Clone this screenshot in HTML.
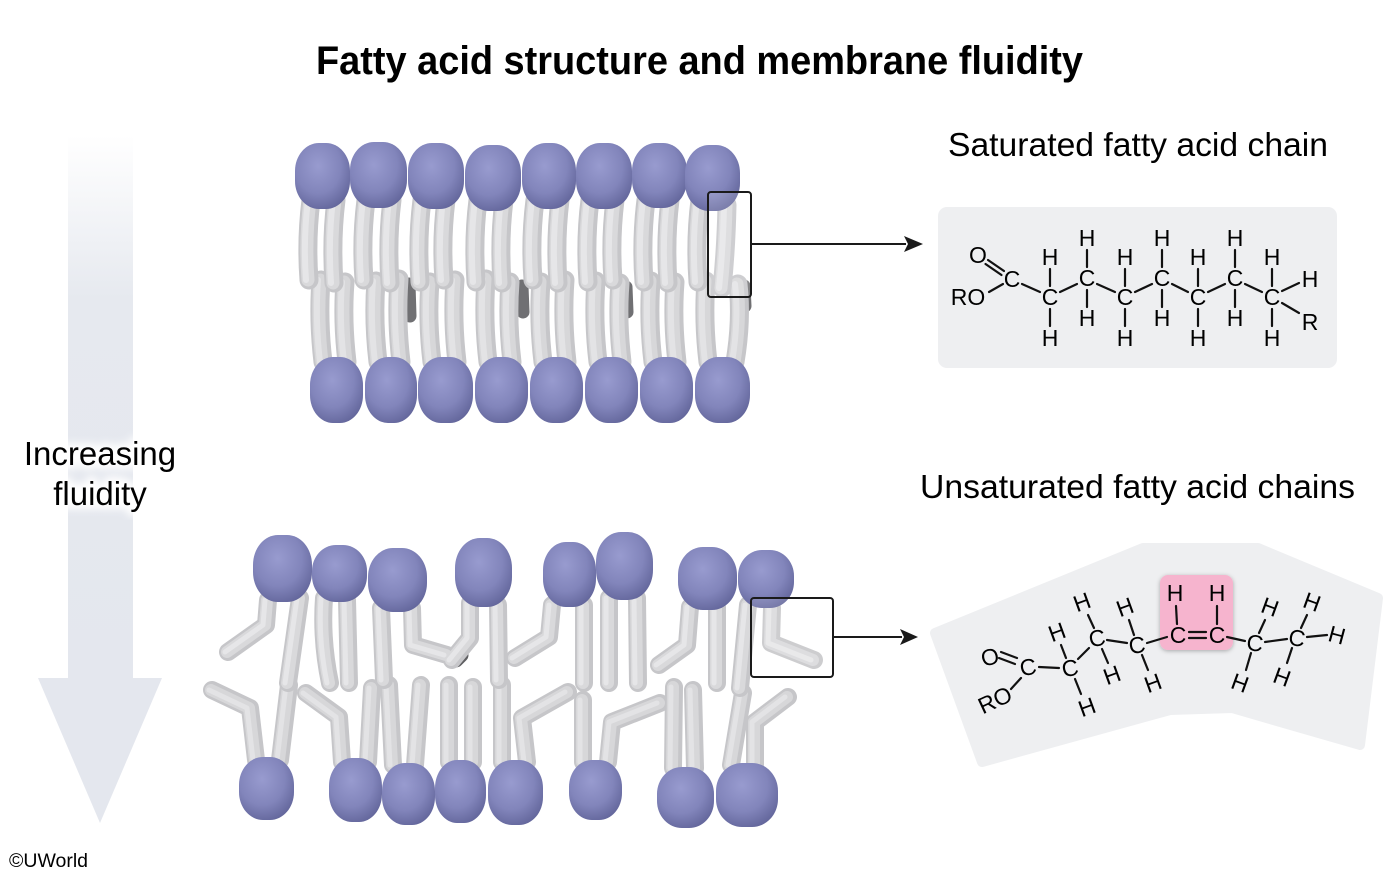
<!DOCTYPE html>
<html><head><meta charset="utf-8"><style>
html,body{margin:0;padding:0;background:#fff;}
svg{display:block;}
text{font-family:"Liberation Sans",Arial,sans-serif;}
</style></head><body>
<svg width="1400" height="876" viewBox="0 0 1400 876" xmlns="http://www.w3.org/2000/svg">
<defs>
<radialGradient id="hg" cx="0.42" cy="0.35" r="0.75">
<stop offset="0" stop-color="#989bcf"/><stop offset="0.55" stop-color="#8285bb"/><stop offset="1" stop-color="#5d6095"/>
</radialGradient>
<linearGradient id="shaft" x1="0" y1="0" x2="0" y2="1">
<stop offset="0" stop-color="#ffffff"/><stop offset="0.3" stop-color="#e6e9ef"/><stop offset="1" stop-color="#e4e7ee"/>
</linearGradient>
<filter id="blur"><feGaussianBlur stdDeviation="4"/></filter>
<filter id="ds" x="-20%" y="-20%" width="140%" height="140%"><feDropShadow dx="0" dy="1" stdDeviation="2" flood-color="#000" flood-opacity="0.3"/></filter>

<g id="TTup" fill="none" stroke-linecap="round" stroke-linejoin="round">
<path d="M311,200 Q306,240 309,280"/><path d="M336,200 Q331,240 334,283"/>
<path d="M366,200 Q361,240 364,280"/><path d="M392,200 Q387,240 390,283"/>
<path d="M422,200 Q417,240 420,282"/><path d="M446,200 Q441,240 444,280"/>
<path d="M478,200 Q473,240 476,282"/><path d="M504,200 Q499,240 502,283"/>
<path d="M535,200 Q530,240 533,280"/><path d="M560,200 Q555,240 558,283"/>
<path d="M590,200 Q585,240 588,282"/><path d="M615,200 Q610,240 613,280"/>
<path d="M646,200 Q641,240 644,282"/><path d="M670,200 Q665,240 668,283"/>
<path d="M700,200 Q695,240 698,282"/><path d="M727,205 Q726,250 722,288"/>
</g>
<g id="TTlo" fill="none" stroke-linecap="round" stroke-linejoin="round">
<path d="M323,362 Q318,320 321,280"/><path d="M347,362 Q342,320 345,282"/>
<path d="M378,362 Q373,320 376,281"/><path d="M401,362 Q396,320 399,279"/>
<path d="M432,362 Q427,320 430,282"/><path d="M457,362 Q452,320 455,280"/>
<path d="M488,362 Q483,320 486,279"/><path d="M512,362 Q507,320 510,282"/>
<path d="M543,362 Q538,320 541,282"/><path d="M567,362 Q562,320 565,280"/>
<path d="M598,362 Q593,320 596,281"/><path d="M622,362 Q617,320 620,283"/>
<path d="M653,362 Q648,320 651,281"/><path d="M677,362 Q672,320 675,282"/>
<path d="M708,362 Q703,320 706,281"/><path d="M735,362 Q742,320 738,284"/>
</g>
<g id="BTup" fill="none" stroke-linecap="round" stroke-linejoin="round">
<path d="M300,598 L288,683"/><path d="M268,600 L266,625 L228,652"/>
<path d="M324,598 Q321,640 330,683"/><path d="M347,600 L349,683"/>
<path d="M381,608 L384,680"/><path d="M412,608 L413,645 L447,655"/>
<path d="M470,603 L470,638 L452,660"/><path d="M498,605 L499,680"/>
<path d="M552,605 L549,637 L515,658"/><path d="M584,605 L584,683"/>
<path d="M609,598 L609,683"/><path d="M637,598 L638,683"/>
<path d="M690,607 L687,645 L659,665"/><path d="M717,607 L717,683"/>
<path d="M748,605 L740,688"/><path d="M772,608 L771,643 L814,660"/>
</g>
<g id="BTlo" fill="none" stroke-linecap="round" stroke-linejoin="round">
<path d="M256,760 L250,708 L212,690"/><path d="M280,760 L289,685"/>
<path d="M342,762 L339,717 L306,693"/><path d="M368,762 L372,688"/>
<path d="M393,765 L389,685"/><path d="M415,765 L421,685"/>
<path d="M449,762 L449,685"/><path d="M473,762 L473,687"/>
<path d="M502,762 L502,685"/><path d="M527,762 L522,718 L568,692"/>
<path d="M583,762 L583,700"/><path d="M608,762 L612,722 L660,703"/>
<path d="M673,768 L674,687"/><path d="M695,768 L693,690"/>
<path d="M731,765 L743,693"/><path d="M755,765 L755,722 L788,697"/>
</g>
</defs>

<text x="316" y="74" font-size="40" font-weight="bold" textLength="767" lengthAdjust="spacingAndGlyphs" fill="#000">Fatty acid structure and membrane fluidity</text>

<rect x="68" y="135" width="65" height="545" fill="url(#shaft)"/>
<polygon points="38,678 162,678 100,823" fill="#e4e7ee"/>
<g filter="url(#blur)" fill="#fff" stroke="#fff" stroke-width="8" font-size="33" text-anchor="middle">
<text x="100" y="465">Increasing</text><text x="100" y="505">fluidity</text>
</g>
<text x="100" y="465" font-size="33" text-anchor="middle" fill="#000">Increasing</text>
<text x="100" y="505" font-size="33" text-anchor="middle" fill="#000">fluidity</text>
<text x="9" y="867" font-size="19.5" fill="#000">©UWorld</text>

<!-- TOP MEMBRANE -->
<g stroke="#707073" stroke-width="13" stroke-linecap="round" fill="none">
<path d="M409,284 L410,316"/><path d="M522,286 L523,312"/><path d="M626,287 L627,312"/><path d="M744,286 L745,306"/>
</g>
<use href="#TTlo" stroke="#c6c6c9" stroke-width="19"/>
<use href="#TTlo" stroke="#d7d7d9" stroke-width="13" transform="translate(-1,0)"/>
<use href="#TTlo" stroke="#e3e3e5" stroke-width="6" transform="translate(-3,0)"/>
<use href="#TTup" stroke="#c6c6c9" stroke-width="19"/>
<use href="#TTup" stroke="#d9d9db" stroke-width="13" transform="translate(-1,0)"/>
<use href="#TTup" stroke="#e6e6e8" stroke-width="6" transform="translate(-3,0)"/>
<g fill="url(#hg)">
<rect x="295" y="143" width="55" height="66" rx="24" ry="28"/>
<rect x="350" y="142" width="57" height="66" rx="24" ry="28"/>
<rect x="408" y="143" width="56" height="66" rx="24" ry="28"/>
<rect x="465" y="145" width="56" height="66" rx="24" ry="28"/>
<rect x="522" y="143" width="54" height="66" rx="24" ry="28"/>
<rect x="576" y="143" width="56" height="66" rx="24" ry="28"/>
<rect x="632" y="143" width="55" height="65" rx="24" ry="28"/>
<rect x="685" y="145" width="55" height="66" rx="24" ry="28"/>
<rect x="310" y="357" width="53" height="66" rx="23" ry="28"/>
<rect x="365" y="357" width="52" height="66" rx="23" ry="28"/>
<rect x="418" y="357" width="55" height="66" rx="23" ry="28"/>
<rect x="475" y="357" width="53" height="66" rx="23" ry="28"/>
<rect x="530" y="357" width="53" height="66" rx="23" ry="28"/>
<rect x="585" y="357" width="53" height="66" rx="23" ry="28"/>
<rect x="640" y="357" width="53" height="66" rx="23" ry="28"/>
<rect x="695" y="357" width="55" height="66" rx="23" ry="28"/>
</g>
<rect x="708" y="192" width="43" height="105" rx="3" fill="rgba(255,255,255,0.15)" stroke="#1a1a1a" stroke-width="2"/>
<line x1="751" y1="244" x2="906" y2="244" stroke="#1a1a1a" stroke-width="2"/>
<polygon points="923,244 904,236 908,244 904,252" fill="#1a1a1a"/>

<!-- BOTTOM MEMBRANE -->
<g stroke="#5e5e61" stroke-width="15" stroke-linecap="round" fill="none">
<path d="M456,660 L461,655"/><path d="M650,706 L660,703"/>
</g>
<use href="#BTlo" stroke="#c6c6c9" stroke-width="18"/>
<use href="#BTlo" stroke="#d7d7d9" stroke-width="12" transform="translate(-1,0)"/>
<use href="#BTlo" stroke="#e3e3e5" stroke-width="5" transform="translate(-3,0)"/>
<use href="#BTup" stroke="#c6c6c9" stroke-width="18"/>
<use href="#BTup" stroke="#d9d9db" stroke-width="12" transform="translate(-1,0)"/>
<use href="#BTup" stroke="#e6e6e8" stroke-width="5" transform="translate(-3,0)"/>
<g fill="url(#hg)">
<rect x="253" y="535" width="59" height="67" rx="25" ry="30"/>
<rect x="312" y="545" width="55" height="57" rx="24" ry="26"/>
<rect x="368" y="548" width="59" height="64" rx="25" ry="29"/>
<rect x="455" y="538" width="57" height="69" rx="25" ry="30"/>
<rect x="543" y="542" width="53" height="65" rx="23" ry="28"/>
<rect x="596" y="532" width="57" height="68" rx="25" ry="30"/>
<rect x="678" y="547" width="59" height="63" rx="25" ry="28"/>
<rect x="738" y="550" width="56" height="58" rx="24" ry="26"/>
<rect x="239" y="757" width="55" height="63" rx="24" ry="28"/>
<rect x="329" y="758" width="53" height="64" rx="23" ry="28"/>
<rect x="382" y="763" width="53" height="62" rx="23" ry="28"/>
<rect x="435" y="760" width="51" height="63" rx="22" ry="28"/>
<rect x="488" y="760" width="55" height="65" rx="24" ry="28"/>
<rect x="569" y="760" width="53" height="60" rx="23" ry="27"/>
<rect x="657" y="767" width="57" height="61" rx="25" ry="27"/>
<rect x="716" y="763" width="62" height="64" rx="26" ry="28"/>
</g>
<rect x="751" y="598" width="82" height="79" rx="3" fill="rgba(255,255,255,0.12)" stroke="#1a1a1a" stroke-width="2"/>
<line x1="833" y1="637" x2="902" y2="637" stroke="#1a1a1a" stroke-width="2"/>
<polygon points="918,637 900,629 904,637 900,645" fill="#1a1a1a"/>

<!-- SATURATED -->
<text x="948" y="156" font-size="33" textLength="380" lengthAdjust="spacingAndGlyphs" fill="#000">Saturated fatty acid chain</text>
<rect x="938" y="207" width="399" height="161" rx="9" fill="#eeeff1"/>
<g stroke="#111" stroke-width="2.2" stroke-linecap="round">
<line x1="988" y1="260" x2="1004" y2="271"/><line x1="985.5" y1="264" x2="1001.5" y2="275"/>
<line x1="989" y1="292" x2="1003" y2="284"/>
<line x1="1022" y1="284" x2="1040" y2="292"/>
<line x1="1060" y1="292" x2="1077" y2="284"/>
<line x1="1097" y1="284" x2="1115" y2="292"/>
<line x1="1135" y1="292" x2="1152" y2="284"/>
<line x1="1172" y1="284" x2="1188" y2="292"/>
<line x1="1208" y1="292" x2="1225" y2="284"/>
<line x1="1245" y1="284" x2="1262" y2="292"/>
<line x1="1282" y1="291" x2="1299" y2="283"/>
<line x1="1282" y1="303" x2="1299" y2="313"/>
<line x1="1050" y1="269" x2="1050" y2="286"/><line x1="1050" y1="309" x2="1050" y2="326"/>
<line x1="1087" y1="250" x2="1087" y2="267"/><line x1="1087" y1="290" x2="1087" y2="307"/>
<line x1="1125" y1="269" x2="1125" y2="286"/><line x1="1125" y1="309" x2="1125" y2="326"/>
<line x1="1162" y1="250" x2="1162" y2="267"/><line x1="1162" y1="290" x2="1162" y2="307"/>
<line x1="1198" y1="269" x2="1198" y2="286"/><line x1="1198" y1="309" x2="1198" y2="326"/>
<line x1="1235" y1="250" x2="1235" y2="267"/><line x1="1235" y1="290" x2="1235" y2="307"/>
<line x1="1272" y1="269" x2="1272" y2="286"/><line x1="1272" y1="309" x2="1272" y2="326"/>
</g>
<g font-size="23" text-anchor="middle" fill="#000">
<text x="978" y="263">O</text><text x="1012" y="287">C</text><text x="968" y="305">RO</text>
<text x="1050" y="305">C</text><text x="1050" y="265">H</text><text x="1050" y="346">H</text>
<text x="1087" y="286">C</text><text x="1087" y="246">H</text><text x="1087" y="326">H</text>
<text x="1125" y="305">C</text><text x="1125" y="265">H</text><text x="1125" y="346">H</text>
<text x="1162" y="286">C</text><text x="1162" y="246">H</text><text x="1162" y="326">H</text>
<text x="1198" y="305">C</text><text x="1198" y="265">H</text><text x="1198" y="346">H</text>
<text x="1235" y="286">C</text><text x="1235" y="246">H</text><text x="1235" y="326">H</text>
<text x="1272" y="305">C</text><text x="1272" y="265">H</text><text x="1272" y="346">H</text>
<text x="1310" y="287">H</text><text x="1310" y="330">R</text>
</g>

<!-- UNSATURATED -->
<text x="920" y="498" font-size="33" textLength="435" lengthAdjust="spacingAndGlyphs" fill="#000">Unsaturated fatty acid chains</text>
<polygon points="935,633 1143,548 1258,548 1378,598 1360,745 1232,708 1170,710 982,762" fill="#eeeff1" stroke="#eeeff1" stroke-width="10" stroke-linejoin="round"/>
<rect x="1160" y="575" width="73" height="75" rx="8" fill="#f6b4ce" filter="url(#ds)"/>
<g stroke="#111" stroke-width="2.2" stroke-linecap="round">
<line x1="1001" y1="652" x2="1017" y2="658"/><line x1="999" y1="658" x2="1015" y2="664"/>
<line x1="1011" y1="689" x2="1021" y2="678"/>
<line x1="1039" y1="667" x2="1059" y2="668"/>
<line x1="1078" y1="659" x2="1089" y2="648"/>
<line x1="1107" y1="640" x2="1127" y2="643"/>
<line x1="1147" y1="643" x2="1167" y2="637"/>
<line x1="1189" y1="632" x2="1206" y2="632"/><line x1="1189" y1="638" x2="1206" y2="638"/>
<line x1="1227" y1="637" x2="1245" y2="641"/>
<line x1="1265" y1="642" x2="1287" y2="639"/>
<line x1="1307" y1="637" x2="1327" y2="635"/>
<line x1="1066" y1="658" x2="1061" y2="645"/><line x1="1075" y1="679" x2="1081" y2="694"/>
<line x1="1094" y1="628" x2="1088" y2="615"/><line x1="1102" y1="649" x2="1108" y2="663"/>
<line x1="1134" y1="635" x2="1129" y2="620"/><line x1="1142" y1="655" x2="1148" y2="670"/>
<line x1="1177" y1="624" x2="1176" y2="606"/>
<line x1="1217" y1="624" x2="1217" y2="606"/>
<line x1="1259" y1="633" x2="1265" y2="620"/><line x1="1251" y1="653" x2="1246" y2="670"/>
<line x1="1301" y1="628" x2="1307" y2="615"/><line x1="1292" y1="648" x2="1287" y2="663"/>
</g>
<g font-size="23" text-anchor="middle" fill="#000">
<text x="990" y="665" transform="rotate(-15 990 657)">O</text>
<text x="1028" y="675" transform="rotate(-10 1028 667)">C</text>
<text x="995" y="708" transform="rotate(-25 995 700)">RO</text>
<text x="1070" y="676" transform="rotate(-10 1070 668)">C</text>
<text x="1057" y="640" transform="rotate(-20 1057 632)">H</text>
<text x="1087" y="715" transform="rotate(-20 1087 707)">H</text>
<text x="1097" y="646" transform="rotate(-10 1097 638)">C</text>
<text x="1082" y="610" transform="rotate(-20 1082 602)">H</text>
<text x="1112" y="683" transform="rotate(-20 1112 675)">H</text>
<text x="1137" y="653" transform="rotate(-8 1137 645)">C</text>
<text x="1125" y="615" transform="rotate(-20 1125 607)">H</text>
<text x="1153" y="691" transform="rotate(-20 1153 683)">H</text>
<text x="1178" y="643">C</text><text x="1175" y="601">H</text>
<text x="1217" y="643">C</text><text x="1217" y="601">H</text>
<text x="1255" y="651" transform="rotate(8 1255 643)">C</text>
<text x="1270" y="615" transform="rotate(20 1270 607)">H</text>
<text x="1240" y="691" transform="rotate(20 1240 683)">H</text>
<text x="1297" y="646" transform="rotate(10 1297 638)">C</text>
<text x="1312" y="610" transform="rotate(20 1312 602)">H</text>
<text x="1337" y="643" transform="rotate(15 1337 635)">H</text>
<text x="1282" y="685" transform="rotate(20 1282 677)">H</text>
</g>
</svg>
</body></html>
